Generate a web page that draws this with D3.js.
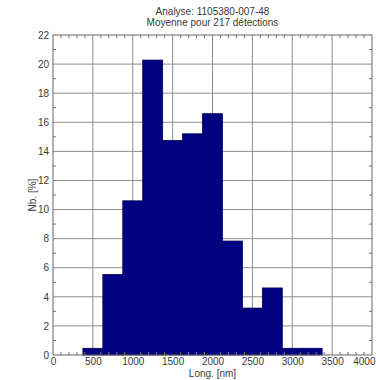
<!DOCTYPE html>
<html><head><meta charset="utf-8">
<script src="https://cdn.jsdelivr.net/npm/d3@7"></script>
<style>
html,body{margin:0;padding:0;background:#fff;}
svg{display:block;font-family:"Liberation Sans",Arial,sans-serif;}
</style></head>
<body>
<svg id="c" width="376" height="380"></svg>
<script>
const titleLines = ["Analyse: 1105380-007-48", "Moyenne pour 217 détections"];
const binStarts = [375, 625, 875, 1125, 1375, 1625, 1875, 2125, 2375, 2625, 2875, 3125];
const binWidth = 250;
const counts = [1, 12, 23, 44, 32, 33, 36, 17, 7, 10, 1, 1];
const total = 217;
const percents = counts.map(c => c / total * 100);
const xTicks = [0, 500, 1000, 1500, 2000, 2500, 3000, 3500, 4000];
const yTicks = [0, 2, 4, 6, 8, 10, 12, 14, 16, 18, 20, 22];
const xLabel = "Long. [nm]";
const yLabel = "Nb. [%]";

const svg = d3.select("#c");
const L = 53, R = 372, T = 35, B = 355;
const x = d3.scaleLinear().domain([0, 4000]).range([L, R]);
const y = d3.scaleLinear().domain([0, 22]).range([B, T]);
const textCol = "#3a3a3a";
const gridCol = "#8c8c8c";

// grid
svg.append("g").selectAll("line.v").data(xTicks.slice(1, -1)).join("line")
  .attr("x1", d => x(d)).attr("x2", d => x(d)).attr("y1", T).attr("y2", B)
  .attr("stroke", gridCol).attr("stroke-width", 1);
svg.append("g").selectAll("line.h").data(yTicks.slice(1, -1)).join("line")
  .attr("y1", d => y(d)).attr("y2", d => y(d)).attr("x1", L).attr("x2", R)
  .attr("stroke", gridCol).attr("stroke-width", 1);

// bars
svg.append("g").selectAll("rect").data(binStarts).join("rect")
  .attr("x", (d) => x(d))
  .attr("width", d => x(d + binWidth) - x(d))
  .attr("y", (d, i) => y(percents[i]))
  .attr("height", (d, i) => y(0) - y(percents[i]))
  .attr("fill", "#000080")
  .attr("stroke", "#00005a").attr("stroke-width", 0.8);

// minor ticks
const xMinor = d3.range(0, 4001, 100).filter(v => v % 500 !== 0);
const yMinor = d3.range(1, 22, 2);
const tk = 3;
const mt = svg.append("g").attr("stroke", "#777").attr("stroke-width", 1);
xMinor.forEach(v => {
  mt.append("line").attr("x1", x(v)).attr("x2", x(v)).attr("y1", B).attr("y2", B - tk);
  mt.append("line").attr("x1", x(v)).attr("x2", x(v)).attr("y1", T).attr("y2", T + tk);
});
yMinor.forEach(v => {
  mt.append("line").attr("y1", y(v)).attr("y2", y(v)).attr("x1", L).attr("x2", L + tk);
  mt.append("line").attr("y1", y(v)).attr("y2", y(v)).attr("x1", R).attr("x2", R - tk);
});

// frame
svg.append("rect").attr("x", L).attr("y", T).attr("width", R - L).attr("height", B - T)
  .attr("fill", "none").attr("stroke", "#666").attr("stroke-width", 1);

// axes labels
const xAxis = d3.axisBottom(x).tickValues(xTicks).tickSize(0).tickPadding(3).tickFormat(d3.format("d"));
const gx = svg.append("g").attr("transform", `translate(0,${B})`).call(xAxis);
gx.select(".domain").remove();
gx.selectAll("text").attr("fill", textCol).attr("font-size", 10).attr("font-family", "Liberation Sans, Arial, sans-serif");
// keep the last label inside the window
gx.selectAll(".tick").filter(d => d === 4000).select("text")
  .attr("text-anchor", "end").attr("x", 376 - x(4000) - 1);

const yAxis = d3.axisLeft(y).tickValues(yTicks).tickSize(0).tickPadding(4).tickFormat(d3.format("d"));
const gy = svg.append("g").attr("transform", `translate(${L},0)`).call(yAxis);
gy.select(".domain").remove();
gy.selectAll("text").attr("fill", textCol).attr("font-size", 10).attr("font-family", "Liberation Sans, Arial, sans-serif");

// titles
svg.append("g").selectAll("text").data(titleLines).join("text")
  .attr("x", (L + R) / 2).attr("y", (d, i) => 15 + i * 11)
  .attr("text-anchor", "middle").attr("font-size", 10).attr("fill", textCol)
  .text(d => d);

svg.append("text").attr("x", (L + R) / 2).attr("y", 377)
  .attr("text-anchor", "middle").attr("font-size", 10).attr("fill", textCol).text(xLabel);
svg.append("text").attr("transform", `translate(36,${(T + B) / 2}) rotate(-90)`)
  .attr("text-anchor", "middle").attr("font-size", 10).attr("fill", textCol).text(yLabel);
</script>
</body></html>
